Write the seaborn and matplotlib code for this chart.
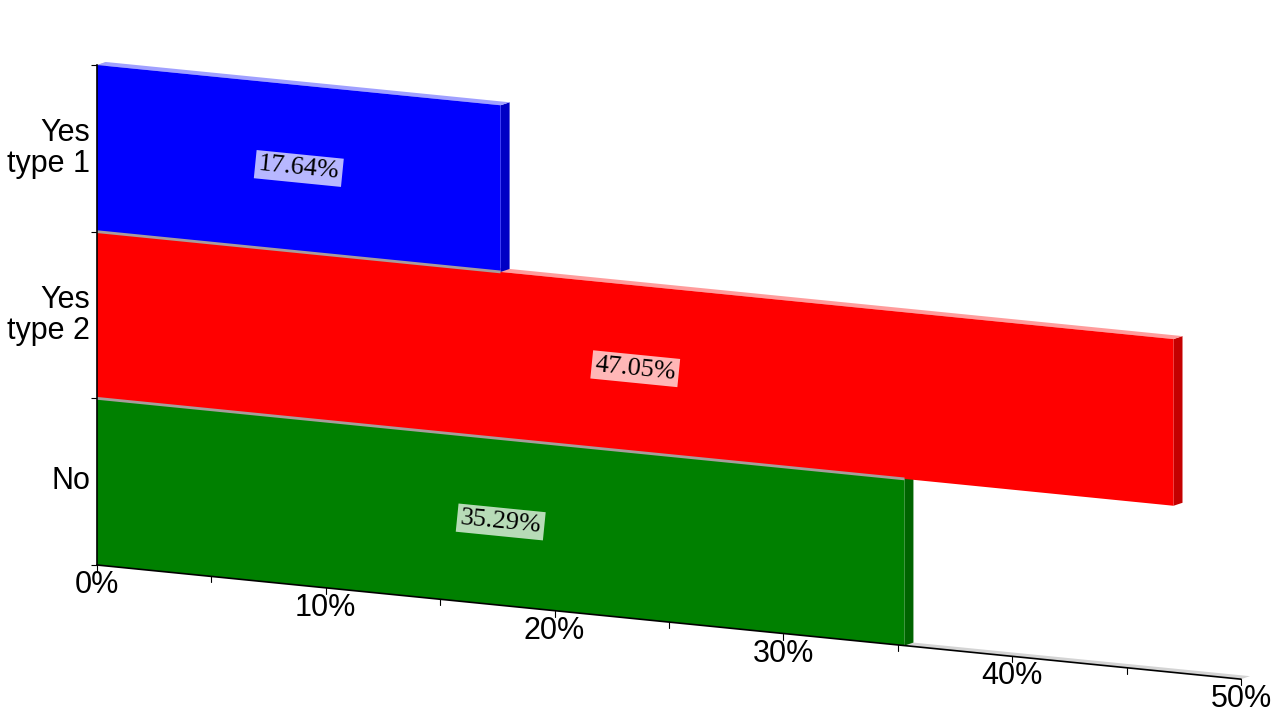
import numpy as np
import pandas as pd
import matplotlib
matplotlib.use("Agg")
import matplotlib.pyplot as plt
import matplotlib.transforms as mtransforms
from matplotlib.patches import Polygon
import seaborn as sns

# datos de la grafica
categorias = ["Yes\ntype 1", "Yes\ntype 2", "No"]
valores = [17.64, 47.05, 35.29]
etiquetas = ["17.64%", "47.05%", "35.29%"]
colores = ["#0000ff", "#ff0000", "#008000"]
colores_lado = ["#0000c4", "#c40000", "#006400"]
colores_tapa = ["#a0a0ff", "#ff9c9c", "#90c090"]
ticks_x = [0, 10, 20, 30, 40, 50]
ticks_x_txt = ["0%", "10%", "20%", "30%", "40%", "50%"]

df = pd.DataFrame({"cat": categorias, "val": valores})

sns.set_style("white")
plt.rcParams["font.family"] = ["Liberation Sans", "DejaVu Sans"]
plt.rcParams["text.color"] = "black"
plt.rcParams["ytick.color"] = "black"
plt.rcParams["ytick.labelcolor"] = "black"

fig = plt.figure(figsize=(12.8, 7.2), dpi=100)
ax = fig.add_axes([97 / 1280, 1 - 565 / 720, (1241 - 97) / 1280, 500 / 720])

sns.barplot(data=df, x="val", y="cat", hue="cat", palette=colores, orient="h",
            width=1.0, saturation=1, legend=False, ax=ax)
ax.set_xlim(0, 50)
ax.set_ylim(2.5, -0.5)

# inclinacion tipo perspectiva (cizalla en coordenadas de datos)
px_pct = (1241 - 97) / 50
px_cat = 500 / 3
s = 0.0998 * px_pct / px_cat
cizalla = mtransforms.Affine2D(np.array([[1, 0, 0], [s, 1, 0], [0, 0, 1]]))
trans = cizalla + ax.transData

# profundidad 3D (9 px a la derecha, 3 px arriba)
ddx = 9 / px_pct
ddy = -3 / px_cat - s * ddx

n = len(valores)
for i, p in enumerate(ax.patches):
    x0, y0, w, h = p.get_x(), p.get_y(), p.get_width(), p.get_height()
    base = 2 + 3 * (n - 1 - i)
    p.set_transform(trans)
    p.set_clip_on(False)
    p.set_edgecolor("none")
    p.set_zorder(base + 1)
    lado = Polygon([(x0 + w, y0), (x0 + w + ddx, y0 + ddy),
                    (x0 + w + ddx, y0 + h + ddy), (x0 + w, y0 + h)],
                   closed=True, facecolor=colores_lado[i], edgecolor="none",
                   transform=trans, clip_on=False, zorder=base)
    tapa = Polygon([(x0, y0), (x0 + ddx, y0 + ddy),
                    (x0 + w + ddx, y0 + ddy), (x0 + w, y0)],
                   closed=True, facecolor=colores_tapa[i], edgecolor="none",
                   transform=trans, clip_on=False, zorder=base)
    ax.add_patch(lado)
    ax.add_patch(tapa)

# piso y pared
piso = Polygon([(0, 2.5), (50, 2.5), (50 + ddx, 2.5 + ddy), (ddx, 2.5 + ddy)],
               closed=True, facecolor="#d4d4d4", edgecolor="none",
               transform=trans, clip_on=False, zorder=1)
pared = Polygon([(0, -0.5), (ddx, -0.5 + ddy), (ddx, 2.5 + ddy), (0, 2.5)],
                closed=True, facecolor="#c0c0c0", edgecolor="none",
                transform=trans, clip_on=False, zorder=1)
ax.add_patch(piso)
ax.add_patch(pared)

# lineas grises entre barras
for i in range(1, n):
    fin = min(valores[i - 1], valores[i])
    ax.plot([0, fin], [i - 0.5, i - 0.5], color="#a89c9c", lw=2.0,
            transform=trans, clip_on=False, zorder=20, solid_capstyle="butt")

# eje x inclinado
ax.plot([0, 50], [2.5, 2.5], color="black", lw=1.2, transform=trans,
        clip_on=False, zorder=21)
for t in np.arange(0, 51, 5):
    ax.plot([t, t], [2.5, 2.5 + 6 / px_cat], color="black", lw=0.8,
            transform=trans, clip_on=False, zorder=21)
for t, txt in zip(ticks_x, ticks_x_txt):
    tr = mtransforms.offset_copy(trans, fig=fig, x=0, y=-20, units="dots")
    ax.text(t, 2.5, txt, transform=tr, ha="center", va="center",
            fontsize=22, color="black", clip_on=False)

# etiquetas de valores
angulo = -np.degrees(np.arctan(0.0998))
for i, (v, txt) in enumerate(zip(valores, etiquetas)):
    ax.text(v / 2, i, txt, transform=trans, ha="center", va="center",
            rotation=angulo, rotation_mode="anchor", fontsize=19,
            color="black", family=["Liberation Serif", "DejaVu Serif"],
            zorder=30,
            bbox=dict(boxstyle="square,pad=0.12", facecolor="white",
                      edgecolor="none", alpha=0.72))

# eje y
ax.set_xticks([])
ax.set_yticks(range(n))
ax.set_yticklabels(categorias, fontsize=22, linespacing=1.05, color="black")
ax.set_yticks([-0.5, 0.5, 1.5, 2.5], minor=True)
ax.tick_params(axis="y", which="major", length=0, pad=5)
ax.tick_params(axis="y", which="minor", length=4, width=0.8, color="black",
               direction="out", left=True)
subir = mtransforms.ScaledTranslation(0, 4 / 100, fig.dpi_scale_trans)
for lbl in ax.get_yticklabels():
    lbl.set_transform(lbl.get_transform() + subir)
ax.set_xlabel("")
ax.set_ylabel("")
for lado in ["top", "right", "bottom"]:
    ax.spines[lado].set_visible(False)
ax.spines["left"].set_color("black")
ax.spines["left"].set_linewidth(1.2)
ax.spines["left"].set_zorder(25)
ax.patch.set_alpha(0)

fig.savefig("out.png", dpi=100)
